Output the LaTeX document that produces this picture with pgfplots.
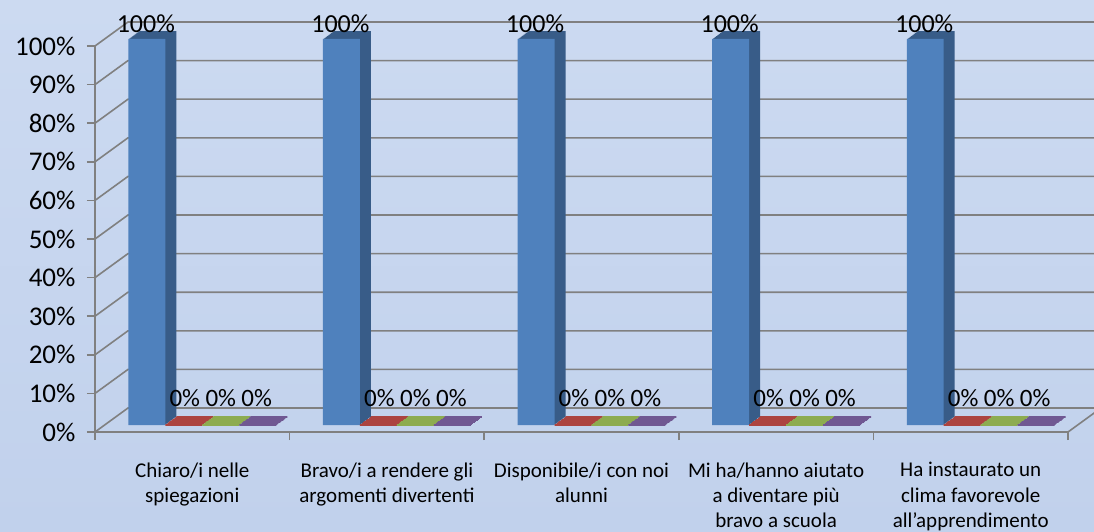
\documentclass[border=0pt]{standalone}
\usepackage{fontspec}
\setmainfont{Carlito}
\usepackage{pgfplots}
\usepackage{pgfplotstable}
\pgfplotsset{compat=1.18}
\definecolor{bgtop}{RGB}{204,218,241}
\definecolor{bgbot}{RGB}{193,209,236}
\definecolor{gridc}{RGB}{128,128,128}
\definecolor{sBlue}{RGB}{79,129,189}
\definecolor{sBlueD}{RGB}{56,92,136}
\definecolor{sRed}{RGB}{172,68,64}
\definecolor{sGreen}{RGB}{141,172,80}
\definecolor{sPurple}{RGB}{112,88,146}

\pgfplotstableread{
x v
0 100
1 100
2 100
3 100
4 100
}\tblue
\pgfplotstableread{
x v
0 0
1 0
2 0
3 0
4 0
}\tred
\pgfplotstableread{
x v
0 0
1 0
2 0
3 0
4 0
}\tgreen
\pgfplotstableread{
x v
0 0
1 0
2 0
3 0
4 0
}\tpurple

\begin{document}
\begin{tikzpicture}
\clip (0pt,0pt) rectangle (1094pt,531pt);
\shade[top color=bgtop,bottom color=bgbot] (0pt,0pt) rectangle (1094pt,531pt);
\begin{axis}[
  at={(95pt,99pt)}, anchor=south west,
  scale only axis, width=973pt, height=386pt,
  xmin=0, xmax=5, ymin=0, ymax=100,
  clip=false,
  axis x line*=bottom, axis y line*=left,
  axis line style={gridc, line width=1.6pt},
  tick align=outside,
  major tick length=8pt,
  every tick/.style={gridc, line width=1.6pt},
  xtick={0,1,2,3,4,5},
  xticklabels={{Chiaro/i nelle\\spiegazioni},{Bravo/i a rendere gli\\argomenti divertenti},{Disponibile/i con noi\\alunni},{Mi ha/hanno aiutato\\a diventare più\\bravo a scuola},{Ha instaurato un\\clima favorevole\\all’apprendimento},{}},
  xticklabel style={xshift=97.3pt, yshift=-19pt, align=center, anchor=north, font=\fontsize{21}{25.3}\selectfont},
  ytick={0,10,...,100},
  yticklabel={\pgfmathprintnumber{\tick}\%},
  /pgf/number format/assume math mode=true,
  yticklabel style={xshift=-8pt, font=\fontsize{27}{30}\selectfont},
]
% back wall and side wall
\pgfplotsinvokeforeach{0,10,...,100}{
  \draw[gridc, line width=1.6pt] (axis cs:0,#1) -- ++(33pt,24pt) -- ([shift={(40pt,24pt)}]axis cs:5,#1);
}
\draw[gridc, line width=1.6pt] (axis cs:5,0) -- ++(33pt,24pt);

% extruded depth of the bars
\pgfplotsinvokeforeach{11,10,...,1}{
  \addplot[ybar, bar width=0.19, bar shift=0, fill=sBlueD, draw=none,
    xshift={(10+#1)*1pt}, yshift={(7+#1*0.727)*1pt}] table[x expr=\thisrow{x}+0.215,y=v]{\tblue};
}
\addplot[ybar, bar width=0.19, bar shift=0, fill=sBlue, draw=none,
  xshift=10pt, yshift=7pt,
  nodes near coords={\pgfmathprintnumber{\pgfplotspointmeta}\%},
  every node near coord/.append style={font=\fontsize{26}{30}\selectfont, yshift=3pt, xshift=-1pt}] table[x expr=\thisrow{x}+0.215,y=v]{\tblue};

\pgfplotsinvokeforeach{11,10,...,1}{
  \addplot[ybar, bar width=0.19, bar shift=0, draw=sRed, fill=none, line width=1.3pt,
    xshift={(10+#1)*1pt}, yshift={(7+#1*0.727)*1pt}] table[x expr=\thisrow{x}+0.405,y=v]{\tred};
  \addplot[ybar, bar width=0.19, bar shift=0, draw=sGreen, fill=none, line width=1.3pt,
    xshift={(10+#1)*1pt}, yshift={(7+#1*0.727)*1pt}] table[x expr=\thisrow{x}+0.595,y=v]{\tgreen};
  \addplot[ybar, bar width=0.19, bar shift=0, draw=sPurple, fill=none, line width=1.3pt,
    xshift={(10+#1)*1pt}, yshift={(7+#1*0.727)*1pt}] table[x expr=\thisrow{x}+0.785,y=v]{\tpurple};
}
\addplot[ybar, bar width=0.19, bar shift=0, draw=sRed, fill=none, line width=1.3pt,
  xshift=10pt, yshift=7pt,
  nodes near coords={\pgfmathprintnumber{\pgfplotspointmeta}\%},
  every node near coord/.append style={text=black, font=\fontsize{25}{28}\selectfont, yshift=14pt, xshift=1pt}] table[x expr=\thisrow{x}+0.405,y=v]{\tred};
\addplot[ybar, bar width=0.19, bar shift=0, draw=sGreen, fill=none, line width=1.3pt,
  xshift=10pt, yshift=7pt,
  nodes near coords={\pgfmathprintnumber{\pgfplotspointmeta}\%},
  every node near coord/.append style={text=black, font=\fontsize{25}{28}\selectfont, yshift=14pt, xshift=0pt}] table[x expr=\thisrow{x}+0.595,y=v]{\tgreen};
\addplot[ybar, bar width=0.19, bar shift=0, draw=sPurple, fill=none, line width=1.3pt,
  xshift=10pt, yshift=7pt,
  nodes near coords={\pgfmathprintnumber{\pgfplotspointmeta}\%},
  every node near coord/.append style={text=black, font=\fontsize{25}{28}\selectfont, yshift=14pt, xshift=-1pt}] table[x expr=\thisrow{x}+0.785,y=v]{\tpurple};
\end{axis}
\end{tikzpicture}
\end{document}
